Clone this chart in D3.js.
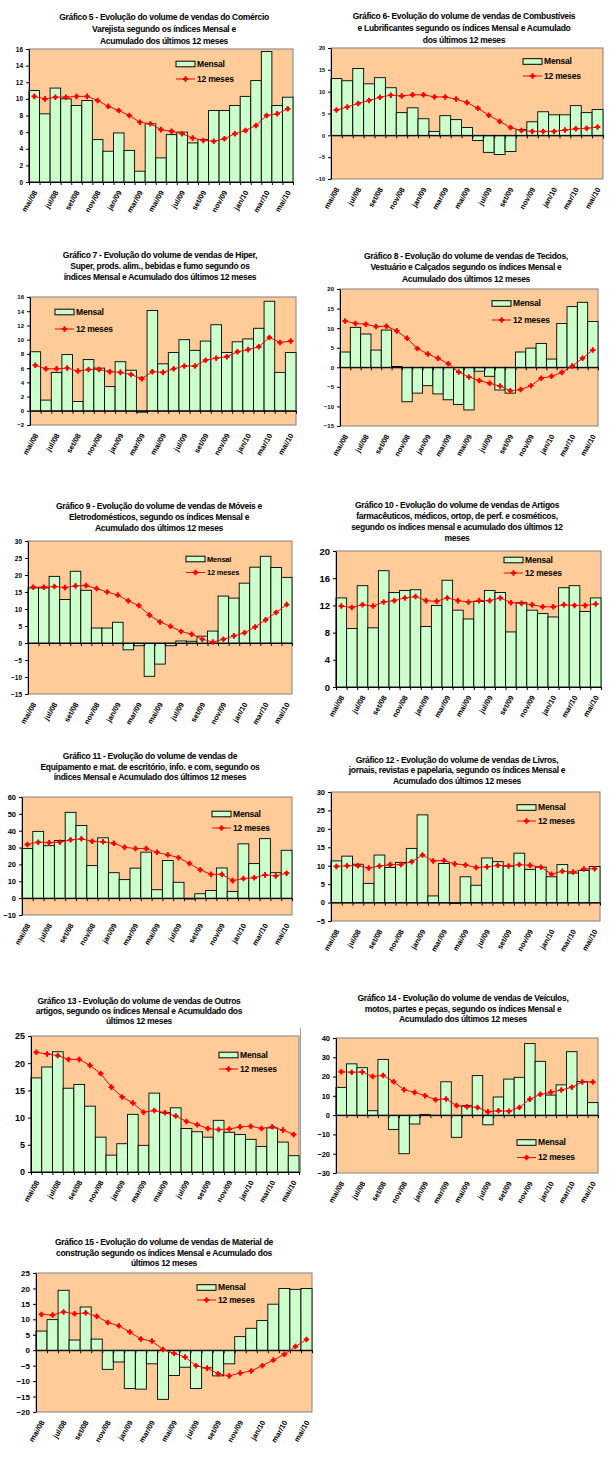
<!DOCTYPE html>
<html>
<head>
<meta charset="utf-8">
<script src="https://cdn.jsdelivr.net/npm/d3@7"></script>
<style>
body { margin: 0; background: #fff; }
</style>
</head>
<body>
<div id="page"></div>
<script>
const FONT = "'Liberation Sans', Arial, sans-serif";

const months = ["mai/08","jun/08","jul/08","ago/08","set/08","out/08","nov/08","dez/08",
  "jan/09","fev/09","mar/09","abr/09","mai/09","jun/09","jul/09","ago/09","set/09","out/09",
  "nov/09","dez/09","jan/10","fev/10","mar/10","abr/10","mai/10"];
const legendLabels = ["Mensal", "12 meses"];

// Gráfico 5 - Comércio Varejista
const title5 = ["Gráfico 5 - Evolução do volume de vendas do Comércio", "Varejista segundo os índices Mensal e", "Acumulado dos últimos 12 meses"];
const mensal5 = [11.0, 8.2, 11.3, 10.0, 9.2, 9.8, 5.1, 3.7, 5.9, 3.8, 1.3, 7.0, 2.9, 5.7, 6.0, 4.7, 5.1, 8.6, 8.6, 9.2, 10.3, 12.2, 15.7, 9.2, 10.2];
const meses5 = [10.3, 10.0, 10.2, 10.2, 10.3, 10.3, 9.8, 9.1, 8.6, 8.0, 7.2, 7.0, 6.3, 6.1, 5.8, 5.3, 5.0, 4.9, 5.2, 5.8, 6.2, 6.8, 8.0, 8.2, 8.8];
const ticks5 = [0, 2, 4, 6, 8, 10, 12, 14, 16];

// Gráfico 6 - Combustíveis e Lubrificantes
const title6 = ["Gráfico 6- Evolução do volume de vendas de Combustíveis", "e Lubrificantes segundo os índices Mensal e Acumulado", "dos últimos 12 meses"];
const mensal6 = [13.0, 12.5, 15.3, 11.8, 13.2, 10.9, 5.2, 6.3, 3.8, 0.9, 4.5, 3.6, 1.8, -1.2, -3.9, -4.4, -3.7, 1.3, 3.1, 5.4, 4.7, 4.7, 6.8, 5.2, 5.9];
const meses6 = [5.8, 6.5, 7.3, 8.0, 8.7, 9.2, 9.0, 9.3, 9.3, 8.8, 8.8, 8.3, 7.5, 6.2, 4.6, 3.2, 1.8, 1.1, 0.9, 0.9, 0.9, 1.2, 1.5, 1.6, 1.9];
const ticks6 = [-10, -5, 0, 5, 10, 15, 20];

// Gráfico 7 - Hiper, Super
const title7 = ["Gráfico 7 - Evolução do volume de vendas de Hiper,", "Super, prods. alim., bebidas e fumo segundo os", "índices Mensal e Acumulado dos últimos 12 meses"];
const mensal7 = [8.3, 1.5, 5.4, 7.9, 1.3, 7.2, 6.0, 3.4, 6.9, 5.7, -0.2, 14.1, 6.6, 8.2, 10.0, 8.5, 9.8, 12.1, 8.2, 9.7, 10.1, 11.6, 15.4, 5.4, 8.2];
const meses7 = [6.4, 5.9, 5.9, 6.0, 5.6, 5.8, 5.8, 5.5, 5.4, 5.1, 4.5, 5.5, 5.4, 5.9, 6.3, 6.3, 7.1, 7.4, 7.6, 8.3, 8.6, 9.0, 10.3, 9.6, 9.8];
const ticks7 = [-2, 0, 2, 4, 6, 8, 10, 12, 14, 16];

// Gráfico 8 - Tecidos, Vestuário e Calçados
const title8 = ["Gráfico 8 - Evolução do volume de vendas de Tecidos,", "Vestuário e Calçados segundo os índices Mensal e", "Acumulado dos últimos 12 meses"];
const mensal8 = [3.9, 10.2, 8.5, 4.4, 9.5, 0.2, -8.8, -6.6, -4.7, -6.8, -8.3, -9.5, -10.9, -1.0, -2.3, -5.8, -6.6, 3.9, 4.9, 6.1, 2.1, 11.2, 15.5, 16.6, 11.7];
const meses8 = [11.8, 11.2, 11.0, 10.4, 10.5, 9.3, 7.4, 4.8, 3.4, 2.3, 0.9, -1.2, -2.5, -3.4, -4.1, -4.8, -6.0, -5.7, -4.7, -2.8, -2.3, -1.3, 0.3, 2.3, 4.4];
const ticks8 = [-15, -10, -5, 0, 5, 10, 15, 20];

// Gráfico 9 - Móveis e Eletrodomésticos
const title9 = ["Gráfico 9 - Evolução do volume de vendas de Móveis e", "Eletrodomésticos, segundo os índices Mensal e", "Acumulado dos últimos 12 meses"];
const mensal9 = [16.2, 16.2, 19.6, 12.8, 21.1, 15.5, 4.4, 4.4, 6.1, -2.0, -0.8, -9.8, -6.2, -0.8, 0.6, 0.5, 2.0, 3.5, 13.8, 13.2, 17.6, 22.3, 25.5, 22.2, 19.3];
const meses9 = [16.4, 16.4, 16.6, 16.3, 16.8, 16.9, 16.0, 15.0, 14.1, 12.4, 11.0, 8.2, 6.2, 4.9, 3.4, 2.6, 1.1, 0.3, 1.1, 2.1, 3.0, 4.7, 6.8, 9.0, 11.3];
const ticks9 = [-15, -10, -5, 0, 5, 10, 15, 20, 25, 30];

// Gráfico 10 - Artigos farmacêuticos
const title10 = ["Gráfico 10 - Evolução do volume de vendas de Artigos", "farmacêuticos, médicos, ortop, de perf. e cosméticos,", "segundo os índices mensal e acumulado dos últimos 12", "meses"];
const mensal10 = [13.1, 8.6, 14.9, 8.7, 17.1, 13.9, 14.2, 14.3, 8.9, 12.0, 15.7, 11.3, 10.0, 12.6, 14.2, 13.9, 8.1, 12.4, 11.3, 10.8, 10.3, 14.6, 14.9, 11.1, 13.1];
const meses10 = [11.9, 11.7, 12.1, 11.9, 12.5, 12.7, 13.1, 13.3, 12.7, 12.6, 13.1, 12.7, 12.5, 12.7, 12.7, 13.1, 12.4, 12.3, 12.1, 11.8, 11.8, 12.1, 12.0, 12.0, 12.2];
const ticks10 = [0, 4, 8, 12, 16, 20];

// Gráfico 11 - Equipamento e mat. de escritório
const title11 = ["Gráfico 11 - Evolução do volume de vendas de", "Equipamento e mat. de escritório, info. e com, segundo os", "índices Mensal e Acumulado dos últimos 12 meses"];
const mensal11 = [29.4, 39.6, 31.1, 34.2, 50.9, 43.1, 19.3, 35.8, 15.1, 11.0, 17.8, 27.3, 5.0, 22.3, 9.4, -0.5, 2.6, 4.5, 17.9, 3.9, 32.2, 20.5, 35.3, 15.1, 28.4];
const meses11 = [31.8, 33.2, 32.9, 33.2, 34.6, 35.2, 33.7, 33.4, 32.5, 30.2, 29.4, 29.4, 27.2, 25.7, 24.0, 20.6, 16.8, 14.1, 14.1, 10.4, 11.6, 12.1, 13.8, 13.2, 14.8];
const ticks11 = [-10, 0, 10, 20, 30, 40, 50, 60];

// Gráfico 12 - Livros, jornais, revistas e papelaria
const title12 = ["Gráfico 12 - Evolução do volume de vendas de Livros,", "jornais, revistas e papelaria, segundo os índices Mensal e", "Acumulado dos últimos 12 meses"];
const mensal12 = [11.3, 12.6, 10.4, 5.2, 12.9, 9.5, 10.9, 14.7, 23.8, 1.8, 10.6, -0.2, 7.0, 4.7, 12.1, 11.1, 9.9, 13.4, 9.0, 9.6, 7.0, 10.3, 8.0, 8.7, 9.8];
const meses12 = [9.8, 10.0, 10.0, 9.4, 9.9, 10.3, 10.3, 11.1, 12.9, 11.3, 11.4, 10.5, 10.2, 9.5, 9.7, 10.1, 9.9, 10.3, 10.1, 9.6, 7.7, 8.5, 8.3, 9.1, 9.2];
const ticks12 = [-5, 0, 5, 10, 15, 20, 25, 30];

// Gráfico 13 - Outros artigos
const title13 = ["Gráfico 13 - Evolução do volume de vendas de Outros", "artigos, segundo os índices Mensal e Acumuldado dos", "últimos 12 meses"];
const mensal13 = [17.3, 19.3, 22.1, 15.4, 16.1, 12.1, 6.4, 3.1, 5.2, 10.6, 4.9, 14.5, 10.9, 11.8, 8.0, 7.4, 6.4, 9.5, 7.3, 6.9, 6.0, 4.7, 8.1, 5.5, 3.0];
const meses13 = [22.0, 21.7, 21.4, 20.7, 20.7, 19.6, 18.1, 15.6, 13.8, 12.7, 11.0, 11.3, 10.9, 10.3, 9.3, 8.7, 8.0, 7.8, 7.9, 8.3, 8.4, 8.0, 8.3, 7.7, 6.9];
const ticks13 = [0, 5, 10, 15, 20, 25];

// Gráfico 14 - Veículos, motos, partes e peças
const title14 = ["Gráfico 14 - Evolução do volume de vendas de Veículos,", "motos, partes e peças, segundo os índices Mensal e", "Acumulado dos últimos 12 meses"];
const mensal14 = [14.4, 26.6, 24.6, 2.3, 28.9, -7.4, -20.0, -4.6, 0.3, -0.2, 17.3, -11.5, 4.9, 20.5, -5.0, 9.4, 18.7, 19.6, 37.1, 27.9, 10.4, 15.7, 32.9, 17.4, 6.5];
const meses14 = [22.5, 22.2, 22.4, 20.0, 20.6, 17.3, 13.2, 11.8, 10.1, 8.0, 8.4, 5.0, 4.3, 4.0, 1.7, 2.3, 2.0, 4.0, 8.3, 10.8, 11.8, 13.0, 14.5, 17.2, 17.2];
const ticks14 = [-30, -20, -10, 0, 10, 20, 30, 40];

// Gráfico 15 - Material de construção
const title15 = ["Gráfico 15 - Evolução do volume de vendas de Material de", "construção segundo os índices Mensal e Acumulado dos", "últimos 12 meses"];
const mensal15 = [6.2, 9.9, 19.4, 3.3, 14.0, 3.6, -6.2, -3.8, -12.4, -12.6, -4.4, -15.9, -8.2, -5.5, -12.4, -5.7, -8.3, -4.4, 4.4, 7.1, 9.6, 14.9, 20.0, 19.7, 20.0];
const meses15 = [11.6, 11.4, 12.4, 11.8, 12.1, 11.0, 9.0, 7.9, 5.9, 3.6, 3.0, 0.2, -1.0, -2.2, -5.0, -5.8, -7.6, -8.3, -7.4, -6.7, -5.0, -3.2, -1.3, 1.2, 3.5];
const ticks15 = [-20, -15, -10, -5, 0, 5, 10, 15, 20, 25];

// layout of each panel: plot box [x0, y0, x1, y1], title, legend, fonts
const charts = [
  {num: 5,  title: title5,  mensal: mensal5,  meses: meses5,  ticks: ticks5,  box: [29, 49, 293, 182],   tx: 164, ty: 19.5, lh: 12,   lg: [176, 64, 15],    tf: 6.5, lf: 8.5},
  {num: 6,  title: title6,  mensal: mensal6,  meses: meses6,  ticks: ticks6,  box: [331, 48, 603, 179],  tx: 464, ty: 19,   lh: 11.8, lg: [523, 61.5, 14.5], tf: 5.5, lf: 8.5},
  {num: 7,  title: title7,  mensal: mensal7,  meses: meses7,  ticks: ticks7,  box: [30, 297, 296, 425],  tx: 160, ty: 258,  lh: 11,   lg: [55, 312, 17],    tf: 6,   lf: 8.5},
  {num: 8,  title: title8,  mensal: mensal8,  meses: meses8,  ticks: ticks8,  box: [340, 289, 598, 426], tx: 466, ty: 259,  lh: 11.3, lg: [492, 303.5, 16.5], tf: 6,  lf: 8.5},
  {num: 9,  title: title9,  mensal: mensal9,  meses: meses9,  ticks: ticks9,  box: [28, 541, 292, 694],  tx: 159, ty: 509,  lh: 11,   lg: [186, 559, 13.5], tf: 6.5, lf: 7.5},
  {num: 10, title: title10, mensal: mensal10, meses: meses10, ticks: ticks10, box: [336, 551, 601, 687], tx: 457, ty: 508,  lh: 11,   lg: [504, 560, 13],   tf: 9.5, lf: 8.5},
  {num: 11, title: title11, mensal: mensal11, meses: meses11, ticks: ticks11, box: [22, 797, 292, 915],  tx: 150, ty: 759,  lh: 10.7, lg: [212, 814, 14],   tf: 7.5, lf: 8.5},
  {num: 12, title: title12, mensal: mensal12, meses: meses12, ticks: ticks12, box: [331, 792, 600, 921], tx: 457, ty: 763,  lh: 10.3, lg: [517, 807.5, 13.5], tf: 7.5, lf: 8.5},
  {num: 13, title: title13, mensal: mensal13, meses: meses13, ticks: ticks13, box: [31, 1036, 299, 1172], tx: 139, ty: 1003.5, lh: 10.3, lg: [219, 1055, 14],  tf: 9,   lf: 8.5},
  {num: 14, title: title14, mensal: mensal14, meses: meses14, ticks: ticks14, box: [336, 1038, 598, 1173], tx: 463, ty: 1001, lh: 10.5, lg: [517, 1142.5, 15], tf: 7.5, lf: 8.5},
  {num: 15, title: title15, mensal: mensal15, meses: meses15, ticks: ticks15, box: [36, 1273, 312, 1412], tx: 164, ty: 1245, lh: 10.5, lg: [197, 1287.5, 12.5], tf: 8,  lf: 8.5}
];

const svg = d3.select("#page").append("svg")
  .attr("width", 609)
  .attr("height", 1460)
  .style("background", "#fff");

function marker(sel, cx, cy) {
  sel.append("path")
    .attr("d", d3.symbol(d3.symbolSquare, 13)())
    .attr("transform", `translate(${cx},${cy}) rotate(45)`)
    .attr("fill", "#FF0000");
  sel.append("path")
    .attr("d", d3.symbol(d3.symbolCross, 17)())
    .attr("transform", `translate(${cx},${cy})`)
    .attr("fill", "#FF0000");
}

function drawChart(c) {
  const [x0, y0, x1, y1] = c.box;
  const x = d3.scaleBand().domain(months).range([x0, x1]).padding(0);
  const xi = d3.scaleLinear().domain([0, months.length]).range([x0, x1]);
  const y = d3.scaleLinear().domain(d3.extent(c.ticks)).range([y1, y0]);
  const bw = x.bandwidth();
  const g = svg.append("g").attr("class", `grafico g${c.num}`);

  // plot area
  g.append("rect")
    .attr("x", x0).attr("y", y0)
    .attr("width", x1 - x0).attr("height", y1 - y0)
    .attr("fill", "#FFCC99")
    .attr("stroke", "#808080");

  // Mensal bars
  g.selectAll(".bar")
    .data(c.mensal)
    .join("rect")
    .attr("class", "bar")
    .attr("x", (d, i) => x(months[i]))
    .attr("y", d => y(Math.max(d, 0)))
    .attr("width", bw)
    .attr("height", d => Math.abs(y(d) - y(0)))
    .attr("fill", "#CCFFCC")
    .attr("stroke", "#000")
    .attr("stroke-width", 0.9);

  // category axis on the zero line, ticks between categories
  g.append("g")
    .attr("transform", `translate(0,${y(0)})`)
    .call(d3.axisBottom(xi).tickValues(d3.range(months.length + 1)).tickSize(3).tickSizeOuter(0).tickFormat(""));

  // value axis
  g.append("g")
    .attr("transform", `translate(${x0},0)`)
    .call(d3.axisLeft(y).tickValues(c.ticks).tickSize(3).tickSizeOuter(0))
    .attr("font-family", FONT)
    .attr("font-size", c.tf)
    .attr("font-weight", "bold");

  // month labels
  g.selectAll(".xlab")
    .data(months.filter((d, i) => i % 2 === 0))
    .join("text")
    .attr("class", "xlab")
    .attr("transform", d => `translate(${x(d) + bw / 2 + 1},${y1 + 9}) rotate(-60)`)
    .attr("text-anchor", "end")
    .attr("dy", "0.35em")
    .attr("font-family", FONT)
    .attr("font-size", 7.5)
    .attr("font-weight", "bold")
    .text(d => d);

  // 12 meses line
  const line = d3.line()
    .x((d, i) => x(months[i]) + bw / 2)
    .y(d => y(d));
  g.append("path")
    .datum(c.meses)
    .attr("d", line)
    .attr("fill", "none")
    .attr("stroke", "#FF0000")
    .attr("stroke-width", 1);
  const mk = g.append("g");
  c.meses.forEach((d, i) => marker(mk, x(months[i]) + bw / 2, y(d)));

  // legend
  const [lx, ly, sp] = c.lg;
  const leg = g.append("g").attr("font-family", FONT).attr("font-size", c.lf).attr("font-weight", "bold");
  leg.append("rect")
    .attr("x", lx).attr("y", ly - 2.8)
    .attr("width", 19).attr("height", 5.6)
    .attr("fill", "#CCFFCC").attr("stroke", "#000");
  leg.append("line")
    .attr("x1", lx).attr("x2", lx + 19)
    .attr("y1", ly + sp).attr("y2", ly + sp)
    .attr("stroke", "#FF0000");
  marker(leg, lx + 9.5, ly + sp);
  leg.selectAll(".ltxt")
    .data(legendLabels)
    .join("text")
    .attr("x", lx + 21)
    .attr("y", (d, i) => ly + i * sp)
    .attr("dy", "0.35em")
    .attr("letter-spacing", -0.2)
    .text(d => d);

  // title
  g.append("text")
    .attr("font-family", FONT)
    .attr("font-size", 8.5)
    .attr("font-weight", "bold")
    .attr("letter-spacing", -0.3)
    .attr("text-anchor", "middle")
    .selectAll("tspan")
    .data(c.title)
    .join("tspan")
    .attr("x", c.tx)
    .attr("y", (d, i) => c.ty + i * c.lh)
    .text(d => d);
}

charts.forEach(drawChart);

// frame edge left of Gráfico 14
svg.append("line")
  .attr("x1", 300.5).attr("x2", 300.5)
  .attr("y1", 1028).attr("y2", 1173)
  .attr("stroke", "#999");
</script>
</body>
</html>
